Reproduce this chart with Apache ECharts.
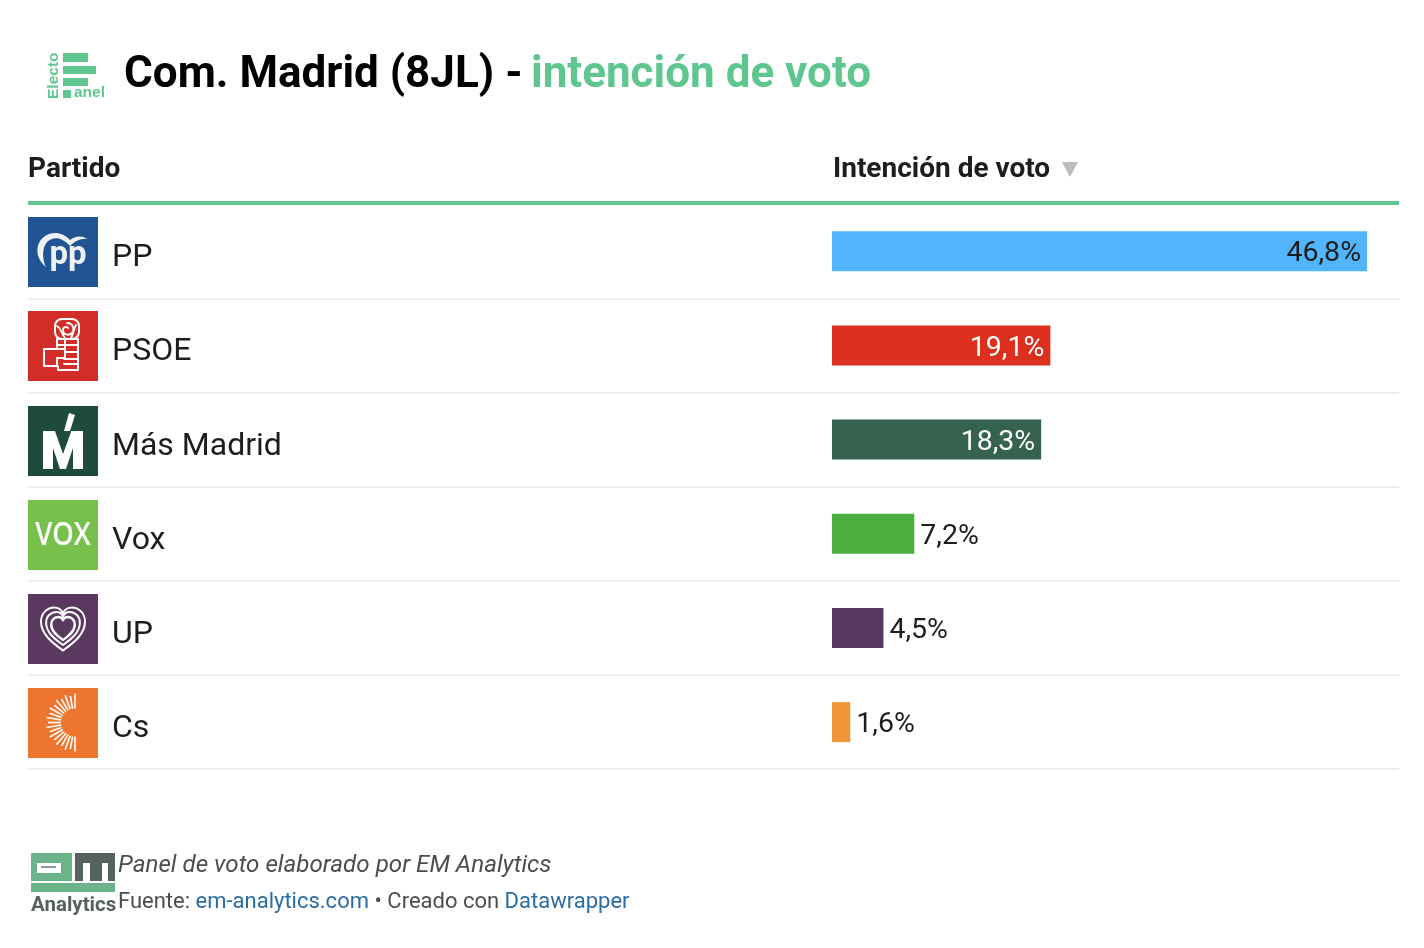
<!DOCTYPE html>
<html><head><meta charset="utf-8">
<style>html,body{margin:0;padding:0;background:#fff}#c{width:1424px;height:948px}</style>
<script src="https://cdn.jsdelivr.net/npm/echarts@6/dist/echarts.min.js"></script>
</head><body><div id="c"></div>
<script>
const parties = ['PP','PSOE','Más Madrid','Vox','UP','Cs'];
const voteValues = [46.8,19.1,18.3,7.2,4.5,1.6];
const barColors = ['#52B4FA','#DD2F1E','#35634F','#4BAE3F','#54365E','#EE9536'];
const logoColors = ['#225493','#D22D27','#1F4B3A','#78C04C','#5A3860','#EE752F'];
const labelInside = [true,true,true,false,false,false];
const labelColors = ['#1d1d1d','#ffffff','#ffffff','#1d1d1d','#1d1d1d','#1d1d1d'];
const FONT = 'Roboto, sans-serif';
const GREEN = '#60C690';

const sw = (w) => ({stroke:'#fff',fill:'none',lineWidth:w,lineCap:'round',lineJoin:'round'});
function pathEl(d, style){ return {type:'path',shape:{pathData:d,layout:'none'},style}; }
function boxPath(d,x,y,w,h,style){ return {type:'path',shape:{pathData:d,x,y,width:w,height:h,layout:'center'},style}; }
const HEART='M50 92 C34 80 6 62 6 34 C6 16 20 6 32 6 C40 6 47 10 50 18 C53 10 60 6 68 6 C80 6 94 16 94 34 C94 62 66 80 50 92 Z';

function logoShapes(i){
  if(i===0) return [
    pathEl('M18 50 C9 43 7 32 12 24 C19 14 33 13 42 23 C47 19 53 18 60 22 C53 21 47 24 42 29 C34 20 25 19 19 25 C14 31 14 42 18 50 Z',{fill:'#eef1f5'}),
    {type:'text',style:{text:'pp',x:40,y:39,align:'center',verticalAlign:'middle',font:'bold 33px '+FONT,fill:'#eef1f5'}}
  ];
  if(i===1) return [
    {type:'rect',shape:{x:27,y:8,width:24,height:20,r:7},style:sw(2)},
    pathEl('M39 12 C45 12 47 18 44 22 C41 25 35 24 35 19 C35 16 38 15 40 17 M29 15 C33 17 33 22 37 27 M48 14 C46 17 46 22 43 27',sw(1.8)),
    pathEl('M29 28 H50 V59 H30 V55 M29 28 V38 M29 34 H50 M37 28 V47 M37 41 H50 M36 48 H50 M36 53 H50 M16 38 H37 V47 H29 V55 H16 Z',sw(2))
  ];
  if(i===2) return [
    pathEl('M15 25 H27 L35 48 L43 26 V25 H55 V63 H45 V42 L38 63 H32 L25 42 V63 H15 Z',{fill:'#fff'}),
    pathEl('M41 7 L47 9 L42 25 L36 25 Z',{fill:'#fff'})
  ];
  if(i===3) return [
    {type:'text',x:35,y:36,scaleX:0.83,style:{text:'VOX',x:0,y:0,align:'center',verticalAlign:'middle',font:'600 33px "Open Sans", sans-serif',fill:'#fff'}}
  ];
  if(i===4) return [
    boxPath(HEART,13,13,44,44,sw(2)),
    boxPath(HEART,18,18,34,33,sw(2)),
    boxPath(HEART,23,23,24,23,sw(2.4))
  ];
  const rays=[];
  for(let k=0;k<=18;k++){
    const a=Math.PI/2+k*Math.PI/18, long=k%2?27:29;
    rays.push({type:'line',shape:{x1:47+14*Math.cos(a),y1:34.5-14*Math.sin(a),x2:47+long*Math.cos(a),y2:34.5-long*Math.sin(a)},style:{stroke:'#fff',lineWidth:1.6}});
  }
  return rays;
}

const chart = echarts.init(document.getElementById('c'),null,{renderer:'canvas'});
chart.setOption({
  animation:false,
  backgroundColor:'#fff',
  textStyle:{fontFamily:FONT},
  grid:[
    {left:28,top:204.2,width:1371,height:565,containLabel:false},
    {left:832,top:204.2,width:535,height:565,containLabel:false},
    {left:28,top:211.2,width:1371,height:565,containLabel:false}
  ],
  xAxis:[
    {gridIndex:0,type:'value',min:0,max:1,show:false},
    {gridIndex:1,type:'value',min:0,max:46.8,show:false},
    {gridIndex:2,type:'value',min:0,max:1,show:false}
  ],
  yAxis:[
    {gridIndex:0,type:'category',inverse:true,data:parties,
     axisLine:{show:false},axisTick:{show:false},axisLabel:{show:false},
     splitLine:{show:true,showMinLine:false,showMaxLine:true,lineStyle:{color:'#eeeeee',width:2}}},
    {gridIndex:1,type:'category',inverse:true,data:parties,show:false},
    {gridIndex:2,type:'category',inverse:true,data:parties,
     axisLine:{show:false},axisTick:{show:false},splitLine:{show:false},
     axisLabel:{inside:true,margin:84,fontFamily:FONT,fontSize:32,color:'#1d1d1d'}}
  ],
  series:[
    {type:'custom',xAxisIndex:0,yAxisIndex:0,silent:true,
     data:parties.map((p,i)=>[0,i]),
     encode:{x:0,y:1},
     clip:false,
     renderItem:(params,api)=>{
       const i=api.value(1);
       const pt=api.coord([0,i]);
       return {type:'group',x:pt[0],y:Math.round(pt[1])-34,children:[
         {type:'rect',shape:{x:0,y:0,width:70,height:70},style:{fill:logoColors[i]}},
         ...logoShapes(i)
       ]};
     }},
    {type:'bar',xAxisIndex:1,yAxisIndex:1,barWidth:40,silent:true,
     data:voteValues.map((v,i)=>({
       value:v,
       itemStyle:{color:barColors[i]},
       label:{show:true,position:labelInside[i]?'insideRight':'right',distance:6,offset:[0,3],
         formatter:()=>v.toFixed(1).replace('.',',')+'%',
         fontFamily:FONT,fontSize:28.5,color:labelColors[i]}
     }))}
  ],
  graphic:[
    {type:'rect',shape:{x:63,y:53,width:25,height:9},style:{fill:GREEN}},
    {type:'rect',shape:{x:63,y:66,width:33,height:8},style:{fill:GREEN}},
    {type:'rect',shape:{x:63,y:78,width:25,height:8},style:{fill:GREEN}},
    {type:'rect',shape:{x:63,y:90,width:8,height:8},style:{fill:GREEN}},
    {type:'text',x:74,y:93,style:{text:'anel',font:'bold 15.5px "Liberation Sans", sans-serif',fill:GREEN,verticalAlign:'middle'}},
    {type:'text',x:54,y:99,rotation:Math.PI/2,style:{text:'Electo',font:'bold 15.5px "Liberation Sans", sans-serif',fill:GREEN,verticalAlign:'middle',align:'left'}},
    {type:'text',x:124,y:76,style:{text:'Com. Madrid (8JL) -',font:'bold 44px '+FONT,fill:'#000',verticalAlign:'middle'}},
    {type:'text',x:531,y:76,style:{text:'intención de voto',font:'bold 44px '+FONT,fill:GREEN,verticalAlign:'middle'}},
    {type:'text',x:28,y:170,style:{text:'Partido',font:'bold 28px '+FONT,fill:'#1d1d1d',verticalAlign:'middle'}},
    {type:'text',x:833,y:170,style:{text:'Intención de voto',font:'bold 28px '+FONT,fill:'#1d1d1d',verticalAlign:'middle'}},
    {type:'polygon',shape:{points:[[1062,162],[1078,162],[1070,177]]},style:{fill:'#bdbdbd'}},
    {type:'rect',z:5,shape:{x:28,y:201,width:1371,height:4},style:{fill:GREEN}},
    {type:'rect',shape:{x:31,y:853,width:41,height:28},style:{fill:'#6BB48A'}},
    {type:'rect',shape:{x:37,y:863,width:24,height:10},style:{fill:'#fff'}},
    {type:'rect',shape:{x:41,y:866,width:15,height:2},style:{fill:'#8a9a94'}},
    {type:'rect',shape:{x:75,y:853,width:40,height:28},style:{fill:'#55625F'}},
    {type:'rect',shape:{x:83,y:863,width:7,height:18},style:{fill:'#fff'}},
    {type:'rect',shape:{x:102,y:863,width:6,height:18},style:{fill:'#fff'}},
    {type:'rect',shape:{x:31,y:883,width:84,height:9},style:{fill:'#6BB48A'}},
    {type:'text',x:31,y:906,style:{text:'Analytics',font:'bold 20.5px '+FONT,fill:'#55625F',verticalAlign:'middle'}},
    {type:'text',x:118,y:866,style:{text:'Panel de voto elaborado por EM Analytics',font:'italic 24.2px '+FONT,fill:'#4d4d4d',verticalAlign:'middle'}},
    {type:'text',x:118,y:902,style:{
      text:'{g|Fuente: }{l|em-analytics.com}{g| • Creado con }{l|Datawrapper}',verticalAlign:'middle',
      rich:{g:{fontFamily:FONT,fontSize:22,fill:'#4d4d4d'},l:{fontFamily:FONT,fontSize:22,fill:'#2A6CA3'}}}}
  ]
});
</script></body></html>
